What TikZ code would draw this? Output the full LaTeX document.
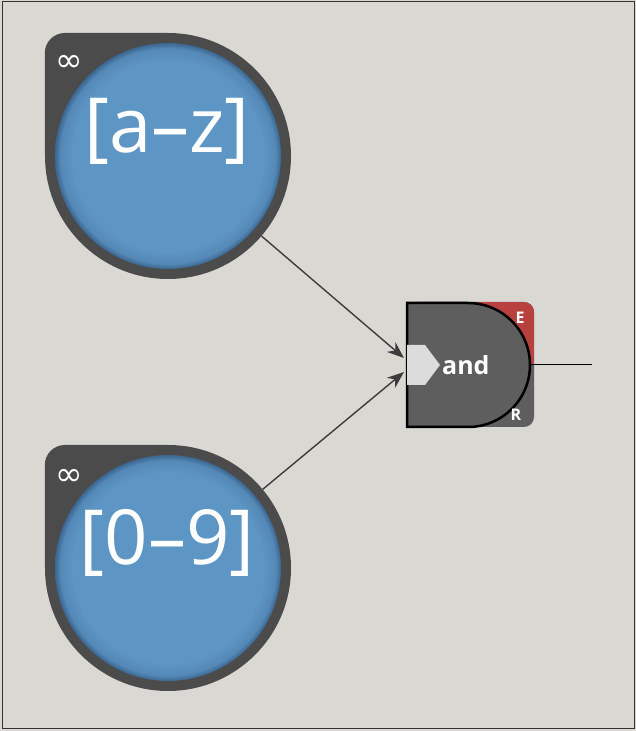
\documentclass[tikz,border=0pt]{standalone}
\usepackage{fontspec}
\setmainfont{Open Sans}
\newfontfamily\symbolfont{DejaVu Sans}
\usetikzlibrary{arrows.meta, positioning, calc}

\definecolor{canvas}{HTML}{D9D8D3}
\definecolor{ringgrey}{HTML}{4B4B4B}
\definecolor{nodeblue}{HTML}{5D95C4}
\definecolor{rimblue}{HTML}{3B6690}
\definecolor{gategrey}{HTML}{5E5E5E}
\definecolor{gatered}{HTML}{B8413F}
\definecolor{portgrey}{HTML}{DCDCDC}
\definecolor{wiregrey}{HTML}{3C3C3C}

% flat blue disc, darker towards the rim
\pgfdeclareradialshading{bubble}{\pgfpoint{0bp}{0bp}}{%
  color(0bp)=(nodeblue); color(21bp)=(nodeblue);
  color(23.8bp)=(nodeblue!75!rimblue); color(25bp)=(rimblue); color(50bp)=(rimblue)}

\begin{document}
\begin{tikzpicture}[x=1pt, y=1pt,
    blob/.style={circle, fill=ringgrey, minimum size=246pt, inner sep=0pt},
    classtext/.style={text=white, font=\fontsize{76}{76}\selectfont, anchor=base, inner sep=0pt},
    loopmark/.style={text=white, font=\symbolfont\fontsize{33}{33}\selectfont, anchor=base, inner sep=0pt},
    portmark/.style={text=white, font=\bfseries\fontsize{16}{16}\selectfont, anchor=base, inner sep=0pt},
    gatetext/.style={text=white, font=\bfseries\fontsize{25}{25}\selectfont, anchor=base west, inner sep=0pt},
    wire/.style={-{Stealth[length=17pt, width=13pt]}, line width=1.4pt, wiregrey}
  ]
  % --- canvas ---
  \fill[canvas] (0,0) rectangle (636,731);
  \draw[black!80, line width=1pt] (2,2) rectangle (634,729);

  % --- character classes ---
  \node[blob] (az)     at (168,575) {};
  \node[blob] (digits) at (168,163) {};
  \foreach \b in {az, digits} {
    \fill[ringgrey] (\b.center) -- (\b.west) -- ++(0,103)
      arc[start angle=180, end angle=90, radius=20pt] -- (\b.north) -- cycle;
    \shade[shading=bubble] (\b.center) circle[radius=113pt];
  }
  \node[classtext] (azlabel)     at (167,578) {[a–z]};
  \node[classtext] (digitslabel) at (167,166) {[0–9]};
  \node[loopmark] (azloop)     at (69,659) {∞};
  \node[loopmark] (digitsloop) at (69,245) {∞};

  % --- and gate ---
  \fill[gategrey, rounded corners=10pt] (407,304) rectangle (534,429);
  \begin{scope}
    \clip[rounded corners=10pt] (407,304) rectangle (534,429);
    \fill[gatered] (440,366) rectangle (534,429);
  \end{scope}
  \filldraw[fill=gategrey, draw=black, line width=2.5pt]
    (407,304) -- (468,304) arc[start angle=-90, end angle=90, radius=62pt]
    -- (407,428) -- cycle;
  \fill[portgrey] (407,386) -- (425,386) -- (440,366) -- (425,346) -- (407,346) -- cycle;
  \node[gatetext] (andtext) at (442,356) {and};
  \node[portmark] (emark) at (520,407) {E};
  \node[portmark] (rmark) at (516,310) {R};

  \coordinate (inA) at (404,373);
  \coordinate (inB) at (404,359);
  \coordinate (gateout) at (531,366);
  \coordinate (out) at (592,366);

  % --- connectors ---
  \draw[wire] (az) -- (inA);
  \draw[wire] (digits) -- (inB);
  \draw[black, line width=1pt] (gateout) -- (out);
\end{tikzpicture}
\end{document}
